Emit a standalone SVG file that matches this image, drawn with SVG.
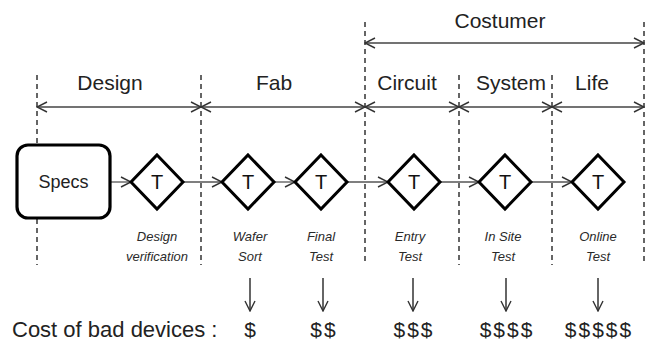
<svg xmlns="http://www.w3.org/2000/svg" width="652" height="348" viewBox="0 0 652 348">
  <style>
    .txt { font-family: "Liberation Sans", Arial, sans-serif; fill: #222; }
    .phase { font-size: 21px; text-anchor: middle; }
    .cap { font-size: 13px; font-style: italic; text-anchor: middle; fill: #2a2a2a; }
    .tee { font-size: 20px; text-anchor: middle; fill: #111; }
    .cost { font-size: 22px; }
    .dollar { font-size: 21px; text-anchor: middle; letter-spacing: 2px; }
    .divider { stroke: #333; stroke-width: 1.5; stroke-dasharray: 5 4; fill: none; }
    .span { stroke: #444; stroke-width: 1.5; fill: none; marker-start: url(#openStart); marker-end: url(#openEnd); }
    .flow { stroke: #555; stroke-width: 1.3; fill: none; marker-end: url(#openEnd); }
    .down { stroke: #333; stroke-width: 1.5; fill: none; marker-end: url(#openEnd); }
    .diamond { fill: #fff; stroke: #000; stroke-width: 3; stroke-linejoin: miter; }
  </style>
  <defs>
    <marker id="openEnd" viewBox="0 0 12 12" refX="11" refY="6" markerWidth="12" markerHeight="12" markerUnits="userSpaceOnUse" orient="auto">
      <path d="M1,1 L11,6 L1,11" fill="none" stroke="#333" stroke-width="1.4"/>
    </marker>
    <marker id="openStart" viewBox="0 0 12 12" refX="1" refY="6" markerWidth="12" markerHeight="12" markerUnits="userSpaceOnUse" orient="auto">
      <path d="M11,1 L1,6 L11,11" fill="none" stroke="#333" stroke-width="1.4"/>
    </marker>
  </defs>

  <rect width="652" height="348" fill="#fff"/>

  <!-- stage boundaries -->
  <g id="dividers">
    <line class="divider" x1="37" y1="75" x2="37" y2="265"/>
    <line class="divider" x1="201" y1="75" x2="201" y2="265"/>
    <line class="divider" x1="365" y1="22" x2="365" y2="265"/>
    <line class="divider" x1="459" y1="75" x2="459" y2="265"/>
    <line class="divider" x1="552" y1="75" x2="552" y2="265"/>
    <line class="divider" x1="644" y1="22" x2="644" y2="265"/>
  </g>

  <!-- stage spans and headings -->
  <g id="spans">
    <line class="span" x1="365" y1="43" x2="644" y2="43"/>
    <line class="span" x1="37" y1="107" x2="201" y2="107"/>
    <line class="span" x1="201" y1="107" x2="365" y2="107"/>
    <line class="span" x1="365" y1="107" x2="459" y2="107"/>
    <line class="span" x1="459" y1="107" x2="552" y2="107"/>
    <line class="span" x1="552" y1="107" x2="644" y2="107"/>
  </g>
  <g id="headings">
    <text class="txt phase" x="500" y="28">Costumer</text>
    <text class="txt phase" x="110" y="90">Design</text>
    <text class="txt phase" x="274" y="90">Fab</text>
    <text class="txt phase" x="407" y="90">Circuit</text>
    <text class="txt phase" x="511" y="90">System</text>
    <text class="txt phase" x="592" y="90">Life</text>
  </g>

  <!-- process flow connectors -->
  <g id="connectors">
    <line class="flow" x1="110" y1="182" x2="131" y2="182"/>
    <line class="flow" x1="183" y1="182" x2="222" y2="182"/>
    <line class="flow" x1="274" y1="182" x2="295" y2="182"/>
    <line class="flow" x1="347" y1="182" x2="388" y2="182"/>
    <line class="flow" x1="440" y1="182" x2="479" y2="182"/>
    <line class="flow" x1="531" y1="182" x2="572" y2="182"/>
    <line class="down" x1="250" y1="278" x2="250" y2="311"/>
    <line class="down" x1="323" y1="278" x2="323" y2="311"/>
    <line class="down" x1="413" y1="278" x2="413" y2="311"/>
    <line class="down" x1="506" y1="278" x2="506" y2="311"/>
    <line class="down" x1="598" y1="278" x2="598" y2="311"/>
  </g>

  <!-- nodes -->
  <g id="specs">
    <rect x="17" y="145" width="93" height="73" rx="11" fill="#fff" stroke="#000" stroke-width="3.2"/>
    <text class="txt" x="63.5" y="188" font-size="18" text-anchor="middle">Specs</text>
  </g>
  <g id="test-design">
    <polygon class="diamond" points="157,155 183,182 157,209 131,182"/>
    <text class="txt tee" x="157" y="189">T</text>
    <text class="txt cap" x="157" y="241">Design</text>
    <text class="txt cap" x="157" y="261">verification</text>
  </g>
  <g id="test-wafer">
    <polygon class="diamond" points="248,155 274,182 248,209 222,182"/>
    <text class="txt tee" x="248" y="189">T</text>
    <text class="txt cap" x="250" y="241">Wafer</text>
    <text class="txt cap" x="250" y="261">Sort</text>
  </g>
  <g id="test-final">
    <polygon class="diamond" points="321,155 347,182 321,209 295,182"/>
    <text class="txt tee" x="321" y="189">T</text>
    <text class="txt cap" x="321" y="241">Final</text>
    <text class="txt cap" x="321" y="261">Test</text>
  </g>
  <g id="test-entry">
    <polygon class="diamond" points="414,155 440,182 414,209 388,182"/>
    <text class="txt tee" x="414" y="189">T</text>
    <text class="txt cap" x="410" y="241">Entry</text>
    <text class="txt cap" x="410" y="261">Test</text>
  </g>
  <g id="test-site">
    <polygon class="diamond" points="505,155 531,182 505,209 479,182"/>
    <text class="txt tee" x="505" y="189">T</text>
    <text class="txt cap" x="503" y="241">In Site</text>
    <text class="txt cap" x="503" y="261">Test</text>
  </g>
  <g id="test-online">
    <polygon class="diamond" points="598,155 624,182 598,209 572,182"/>
    <text class="txt tee" x="598" y="189">T</text>
    <text class="txt cap" x="598" y="241">Online</text>
    <text class="txt cap" x="598" y="261">Test</text>
  </g>

  <!-- cost row -->
  <g id="cost">
    <text class="txt cost" x="12" y="337">Cost of bad devices :</text>
    <text class="txt dollar" x="251" y="337">$</text>
    <text class="txt dollar" x="324" y="337">$$</text>
    <text class="txt dollar" x="414" y="337">$$$</text>
    <text class="txt dollar" x="507" y="337">$$$$</text>
    <text class="txt dollar" x="599" y="337">$$$$$</text>
  </g>
</svg>
